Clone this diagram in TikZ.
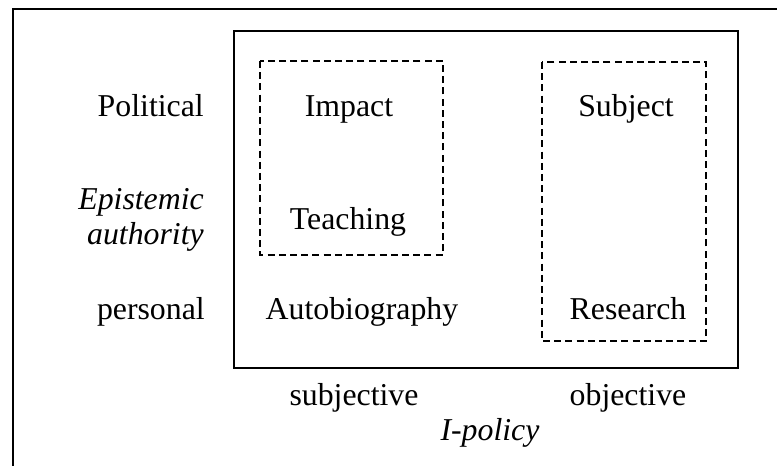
\documentclass[tikz,border=0pt]{standalone}
\usepackage{fontspec}
\setmainfont{Liberation Serif}
\begin{document}
\begin{tikzpicture}[x=0.75pt,y=-0.75pt,
  lbl/.style={inner sep=0pt,font=\fontsize{23.85}{26.25}\selectfont},
  solidbox/.style={draw,line width=1pt},
  dashbox/.style={draw,line width=0.8pt,dash pattern=on 5.2pt off 3.2pt}]
\useasboundingbox (0,0) rectangle (777,466);
\clip (0,0) rectangle (777,466);
\fill[white] (0,0) rectangle (777,466);
% outer frame (partly visible)
\draw[line width=1pt] (13,480) -- (13,9) -- (800,9);
% inner box
\draw[solidbox] (234,31) rectangle (738,368);
% dashed groups
\draw[dashbox] (260,61) rectangle (443,255);
\draw[dashbox] (542,62) rectangle (706,341);
% row labels
\node[lbl,anchor=base east] (pol) at (204,117) {Political};
\node[lbl,anchor=base east,align=right] (epi) at (204,245) {\itshape Epistemic\\\itshape authority};
\node[lbl,anchor=base east] (pers) at (205,320) {personal};
% cells
\node[lbl,anchor=base] (imp) at (349,117) {Impact};
\node[lbl,anchor=base] (subj) at (626,117) {Subject};
\node[lbl,anchor=base] (teach) at (348,230) {Teaching};
\node[lbl,anchor=base] (auto) at (362,320) {Autobiography};
\node[lbl,anchor=base] (res) at (628,319) {Research};
% column labels
\node[lbl,anchor=base] (sbj) at (354,405) {subjective};
\node[lbl,anchor=base] (obj) at (628,405) {objective};
\node[lbl,anchor=base] (ipol) at (490,440) {\itshape I-policy};
\end{tikzpicture}
\end{document}
